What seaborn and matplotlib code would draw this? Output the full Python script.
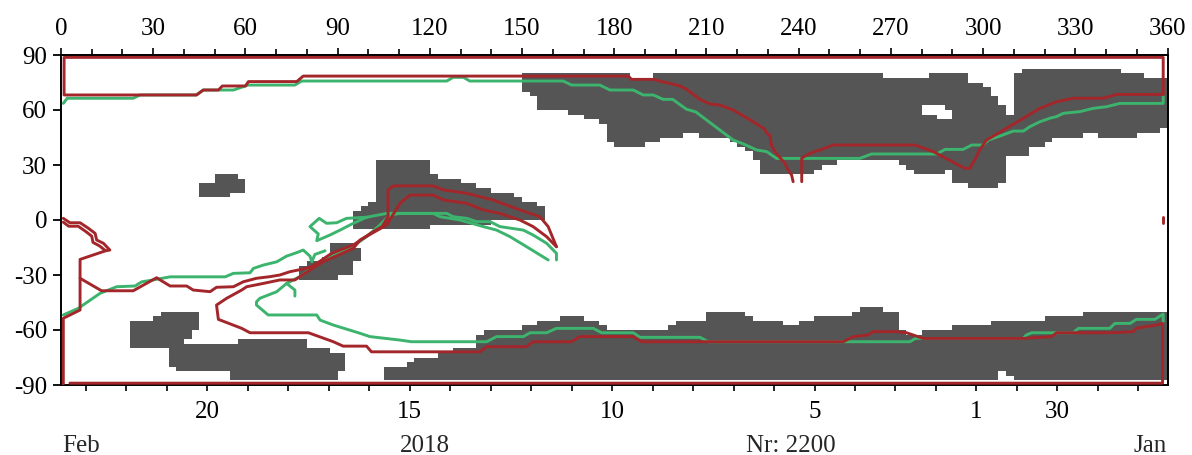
import numpy as np
import matplotlib
matplotlib.use("Agg")
import matplotlib.pyplot as plt
from matplotlib.colors import ListedColormap
import seaborn as sns

sns.set_theme(style="ticks")
plt.rcParams['font.family'] = ['Liberation Serif', 'DejaVu Serif']
plt.rcParams['axes.unicode_minus'] = False

# ---------------------------------------------------------------- grey cells
# each region: lon edges, cell bottoms, cell tops (2.5 deg grid)
north_edges = [150, 152.5, 155, 165, 170, 175, 177.5, 180, 185, 190, 192.5, 195, 202.5,
               207.5, 217.5, 220, 222.5, 225, 227.5, 245, 247.5, 252.5, 267.5, 272.5, 275,
               277.5, 282.5, 287.5, 290, 295, 300, 302.5, 305, 307.5, 310, 312.5, 315, 320,
               322.5, 332.5, 337.5, 345, 350, 352.5, 357.5, 360]
north_bottom = [70, 67.5, 60, 57.5, 55, 52.5, 42.5, 40, 40, 42.5, 42.5, 45, 47.5, 45, 42.5,
                40, 37.5, 32.5, 25, 27.5, 30, 32.5, 32.5, 30, 27.5, 25, 25, 27.5, 20, 17.5,
                17.5, 17.5, 20, 35, 35, 35, 40, 42.5, 45, 47.5, 45, 45, 47.5, 47.5, 50]
north_top = [80, 80, 80, 80, 80, 80, 80, 80, 77.5, 77.5, 80, 80, 80, 80, 80, 80, 80, 80, 80,
             80, 80, 80, 77.5, 77.5, 77.5, 77.5, 80, 80, 80, 75, 72.5, 67.5, 62.5, 57.5, 80,
             82.5, 82.5, 82.5, 82.5, 82.5, 82.5, 80, 80, 77.5, 77.5]

arc_edges = [95, 97.5, 100, 102.5, 120, 122.5, 130, 135, 140, 147.5, 150, 155, 157.5]
arc_bottom = [-5, -5, -5, -5, -2.5, -2.5, -2.5, -2.5, 0, 0, 0, 0]
arc_top = [5, 7.5, 10, 32.5, 25, 22.5, 20, 17.5, 15, 12.5, 10, 7.5]

mid_edges = [77.5, 80, 85, 87.5, 90, 95, 97.5]
mid_bottom = [-32.5, -32.5, -32.5, -32.5, -30, -22.5]
mid_top = [-25, -22.5, -20, -12.5, -12.5, -15]

nw_edges = [45, 50, 55, 57.5, 60]
nw_bottom = [12.5, 12.5, 15, 15]
nw_top = [20, 25, 25, 22.5]

swa_edges = [22.5, 30, 32.5, 35, 42.5, 45]
swa_bottom = [-70, -70, -70, -65, -60]
swa_top = [-55, -52.5, -50, -50, -50]

swb_edges = [35, 37.5, 40, 55, 57.5, 80, 87.5, 90, 92.5]
swb_bottom = [-80, -82.5, -82.5, -87.5, -87.5, -87.5, -87.5, -82.5]
swb_top = [-65, -65, -67.5, -67.5, -65, -70, -72.5, -72.5]

south_edges = [105, 112.5, 115, 122.5, 127.5, 135, 137.5, 150, 155, 162.5, 170, 175, 177.5,
               197.5, 200, 210, 222.5, 225, 235, 240, 245, 257.5, 260, 267.5, 272.5, 275,
               280, 290, 302.5, 320, 332.5, 360]
south_bottom = [-87.5] * 31
south_top = [-80, -77.5, -75, -72.5, -70, -62.5, -60, -57.5, -55, -52.5, -55, -57.5, -60,
             -57.5, -55, -50, -52.5, -55, -57.5, -55, -52.5, -50, -47.5, -50, -60, -62.5,
             -60, -57.5, -55, -52.5, -50]

hole_edges = [280, 285, 287.5, 290, 305, 307.5, 310]
hole_bottom = [57.5, 55, 55, None, -87.5, -87.5]
hole_top = [62.5, 62.5, 60, None, -82.5, -85]

# ---------------------------------------------------------------- contour lines
red_north_lon = [238.2, 237.7, 236.6, 235.5, 232.3, 231.2, 230.6, 229.6, 229.0, 225.2, 218.7,
                 214.4, 211.1, 207.9, 203.5, 201.4, 198.1, 195.5, 192.7, 185.6, 184.6, 78.8,
                 76.7, 61.0, 60.0, 52.5, 51.2, 46.3, 44.1, 1.0, 1.0, 358.6, 358.6, 343.4, 339.1,
                 329.3, 323.9, 318.5, 307.6, 301.1, 298.9, 297.5, 295.7, 294.0, 283.8, 277.8,
                 251.3, 246.9, 243.7, 241.0, 241.0]
red_north_lat = [20.9, 24.5, 27.3, 30.9, 37.3, 40.4, 46.4, 47.3, 49.5, 53.6, 60.0, 62.7, 63.3,
                 65.8, 71.3, 73.1, 74.5, 75.5, 76.7, 76.7, 78.5, 78.5, 75.5, 75.5, 73.1, 73.1,
                 70.9, 70.9, 68.2, 68.2, 88.7, 88.7, 68.5, 68.5, 66.4, 66.4, 64.5, 60.9, 50.0,
                 43.6, 38.2, 33.5, 28.2, 28.2, 37.3, 40.9, 40.9, 38.2, 36.4, 33.8, 20.9]

red_south_lon = [2.9, 358.4, 358.4, 356.4, 351.5, 349.9, 348.8, 341.8, 323.9, 322.3, 313.1,
                 280.5, 275.1, 271.8, 264.2, 262.6, 257.8, 254.5, 188.9, 186.2, 168.8, 166.1,
                 153.6, 151.5, 138.5, 136.3, 101.0, 99.4, 91.8, 88.6, 80.5, 61.5, 58.8, 51.2,
                 50.6, 53.9, 58.8, 60.4, 65.8, 71.2, 76.1, 81.0, 85.3, 95.1, 97.3, 106.0, 110.3,
                 113.5, 121.1, 124.4, 132.0, 137.4, 142.8, 149.3, 153.6, 158.0, 161.2]
red_south_lat = [-89.0, -89.0, -56.4, -57.3, -58.6, -59.1, -60.9, -61.5, -61.5, -63.6, -64.6,
                 -64.6, -61.5, -60.9, -60.9, -62.7, -63.6, -66.4, -66.4, -63.6, -63.6, -66.4,
                 -66.4, -69.1, -69.1, -71.9, -71.9, -68.8, -68.8, -66.4, -61.5, -61.5, -59.1,
                 -54.2, -46.4, -42.7, -38.2, -36.4, -34.6, -32.7, -32.7, -27.3, -22.8, -15.5,
                 -10.9, -2.7, 9.1, 13.6, 13.6, 10.9, 9.1, 5.5, 3.6, 0.0, -3.6, -9.1, -14.6]

red_arc_lon = [161.2, 158.5, 155.8, 149.3, 140.6, 132.0, 124.4, 121.1, 108.1, 106.4, 106.4,
               104.5, 101.0, 95.1, 88.0, 81.6, 78.0, 74.5, 71.2, 68.0, 63.6, 59.3, 56.1, 50.6,
               48.5, 43.0, 40.9, 35.5, 31.1, 23.5, 13.2, 6.2]
red_arc_lat = [-14.6, -3.6, 1.8, 5.5, 10.9, 14.6, 16.4, 18.6, 18.6, 16.4, 1.8, -3.5, -7.0,
               -13.6, -18.2, -25.5, -27.0, -28.2, -30.0, -30.9, -31.8, -33.7, -36.4, -36.7,
               -39.1, -38.2, -36.0, -36.0, -31.5, -38.6, -38.6, -31.8]

red_west_lon = [0.75, 2.9, 6.2, 8.9, 11.1, 11.6, 13.8, 15.9, 14.5, 6.2, 6.2, 0.75, 0.75]
red_west_lat = [0.9, -1.5, -1.5, -4.5, -7.3, -10.9, -12.7, -16.4, -16.8, -21.5, -49.1, -53.6,
                -89.5]
red_inner_lon = [0.75, 2.5, 5.6, 8.0, 10.0, 10.4, 12.6, 14.5]
red_inner_lat = [-1.2, -3.4, -3.4, -6.2, -8.8, -12.2, -14.2, -16.8]
red_edge_lon = [358.6, 358.6]
red_edge_lat = [-1.8, 1.8]

green_north_lon = [0.75, 2.0, 23.5, 25.7, 44.0, 46.3, 56.1, 60.9, 76.1, 78.3, 125.5, 127.6,
                   131.0, 133.0, 163.4, 166.1, 175.3, 178.6, 186.2, 189.4, 192.7, 195.9, 199.0,
                   203.5, 206.5, 218.7, 222.0, 226.3, 229.6, 232.8, 259.9, 263.7, 284.9, 287.6,
                   293.5, 296.3, 300.0, 301.7, 306.5, 309.8, 313.1, 315.2, 318.5, 321.7, 323.9,
                   326.1, 331.5, 335.8, 340.2, 344.5, 358.6, 358.6]
green_north_lat = [63.6, 66.4, 66.4, 68.2, 68.2, 70.9, 70.9, 73.6, 73.6, 75.8, 75.8, 77.8,
                   77.8, 75.8, 75.8, 73.6, 73.6, 70.9, 70.9, 68.2, 68.2, 65.8, 65.8, 60.4, 59.0,
                   43.6, 41.5, 38.2, 37.3, 33.6, 33.6, 36.0, 36.0, 38.5, 38.5, 40.9, 40.9, 43.6,
                   46.4, 48.5, 48.5, 50.9, 53.6, 55.5, 56.4, 58.2, 59.1, 60.9, 61.8, 63.6, 63.6,
                   67.3]

green_west_lon = [0.75, 5.6, 12.7, 18.1, 24.1, 26.3, 30.0, 35.5, 53.4, 56.1, 61.5, 62.6, 65.8,
                  70.2, 73.4, 76.7, 78.8, 81.0, 81.6, 82.6, 85.9]
green_west_lat = [-51.8, -48.2, -40.0, -36.4, -36.0, -33.7, -32.7, -31.0, -31.0, -29.1, -28.8,
                  -26.4, -24.6, -22.8, -19.7, -17.8, -16.4, -19.7, -22.8, -18.8, -16.8]

green_south_lon = [358.6, 358.6, 355.9, 349.9, 347.8, 342.9, 341.2, 331.0, 329.3, 315.8, 314.1,
                   313.0, 278.0, 276.2, 210.6, 207.9, 188.4, 186.2, 175.9, 173.2, 161.2, 158.0,
                   152.6, 150.4, 141.7, 138.5, 114.0, 110.3, 100.5, 97.3, 88.6, 84.3, 83.2, 67.4,
                   63.6, 63.6, 64.7, 70.2, 73.4, 77.7, 82.1, 87.5, 95.1, 99.4, 103.8, 107.0,
                   110.3, 121.1, 123.3, 129.8, 137.4, 141.7, 146.1, 151.5, 158.5]
green_south_lat = [-55.5, -51.3, -54.2, -54.2, -56.4, -56.4, -59.1, -59.1, -61.5, -61.5, -62.7,
                   -64.6, -64.6, -66.4, -66.4, -64.0, -64.0, -61.5, -61.5, -59.1, -59.1, -61.5,
                   -61.5, -63.6, -63.6, -66.4, -66.4, -65.5, -63.6, -61.8, -57.3, -54.6, -51.8,
                   -51.8, -46.4, -44.6, -42.7, -39.1, -34.6, -30.9, -25.8, -20.4, -14.2, -9.1,
                   -2.7, 2.7, 3.6, 3.6, 1.8, 0.0, -3.6, -5.5, -9.1, -14.6, -21.8]

green_arc_lon = [99.4, 92.9, 89.7, 86.4, 84.0, 81.0, 83.7, 83.2, 87.5, 90.8, 95.1, 99.4, 106.0,
                 125.5, 127.6, 132.0, 135.2, 139.6, 142.8, 150.4, 153.6, 158.0, 161.2, 161.2]
green_arc_lat = [1.5, 0.9, -1.5, -1.8, 0.9, -3.6, -7.6, -11.3, -8.2, -5.5, -1.8, 1.5, 3.6, 3.6,
                 1.8, 0.9, -0.9, -0.9, -3.6, -5.5, -8.2, -12.7, -18.2, -21.8]

green_hook_lon = [73.4, 76.1, 76.1]
green_hook_lat = [-34.6, -38.2, -41.5]

# ---------------------------------------------------------------- bottom date axis
tick_days = [23, 22, 21, 20, 19, 18, 17, 16, 15, 14, 13, 12, 11, 10, 9, 8, 7, 6, 5, 4, 3, 2, 1,
             31, 30, 29, 28]
labelled_days = [20, 15, 10, 5, 1, 30]
first_day_lon = 8.1
day_step = 13.17

GREY = "#555555"
RED = "#a3262a"
GREEN = "#3cb46e"

# ---------------------------------------------------------------- build mask
lon_edges = np.arange(0, 360.01, 2.5)
lat_edges = np.arange(-90, 90.01, 2.5)
lon_c = 0.5 * (lon_edges[:-1] + lon_edges[1:])
lat_c = 0.5 * (lat_edges[:-1] + lat_edges[1:])
mask = np.zeros((lat_c.size, lon_c.size), dtype=bool)


def paint(edges, bottoms, tops, value=True):
    for l0, l1, b, t in zip(edges[:-1], edges[1:], bottoms, tops):
        if b is None:
            continue
        cols = (lon_c > l0) & (lon_c < l1)
        rows = (lat_c > b) & (lat_c < t)
        mask[np.ix_(rows, cols)] = value


for e, b, t in [(north_edges, north_bottom, north_top),
                (arc_edges, arc_bottom, arc_top),
                (mid_edges, mid_bottom, mid_top),
                (nw_edges, nw_bottom, nw_top),
                (swa_edges, swa_bottom, swa_top),
                (swb_edges, swb_bottom, swb_top),
                (south_edges, south_bottom, south_top)]:
    paint(e, b, t)
paint(hole_edges, hole_bottom, hole_top, value=False)

# ---------------------------------------------------------------- figure
fig = plt.figure(figsize=(11.92, 4.55), dpi=100)
ax = fig.add_axes([61 / 1192, 1 - 385 / 455, (1167.5 - 61) / 1192, 330 / 455])

field = np.ma.masked_where(~mask, np.ones_like(mask, dtype=float))
ax.pcolormesh(lon_edges, lat_edges, field, cmap=ListedColormap([GREY]),
              shading="flat", antialiased=False, zorder=1)

lw = 2.1
greens = [(green_north_lon, green_north_lat), (green_west_lon, green_west_lat),
          (green_south_lon, green_south_lat), (green_arc_lon, green_arc_lat),
          (green_hook_lon, green_hook_lat)]
reds = [(red_north_lon, red_north_lat), (red_south_lon, red_south_lat),
        (red_arc_lon, red_arc_lat), (red_west_lon, red_west_lat),
        (red_inner_lon, red_inner_lat), (red_edge_lon, red_edge_lat)]
for lons, lats in greens:
    sns.lineplot(x=lons, y=lats, sort=False, estimator=None, color=GREEN, linewidth=lw,
                 ax=ax, legend=False, zorder=3)
for lons, lats in reds:
    sns.lineplot(x=lons, y=lats, sort=False, estimator=None, color=RED, linewidth=lw,
                 ax=ax, legend=False, zorder=4)

ax.set_xlim(0, 360)
ax.set_ylim(-90, 90)
ax.set_xlabel("")
ax.set_ylabel("")

for s in ax.spines.values():
    s.set_visible(True)
    s.set_color("black")
    s.set_linewidth(1.4)

FS = 18
ax.set_yticks(np.arange(-90, 91, 30))
ax.set_yticklabels([str(v) for v in np.arange(-90, 91, 30)], fontsize=FS)
ax.tick_params(axis="y", direction="out", length=6, width=1.3, pad=4, colors="black",
               left=True, right=False)

day_pos = [first_day_lon + i * day_step for i in range(len(tick_days))]
ax.set_xticks(day_pos)
ax.set_xticklabels([str(d) if d in labelled_days else "" for d in tick_days], fontsize=FS)
ax.tick_params(axis="x", direction="out", length=4, width=1.2, pad=7.5, colors="black",
               bottom=True, top=False)

top = ax.secondary_xaxis("top")
top.set_xticks(np.arange(0, 361, 30))
top.set_xticklabels([str(v) for v in np.arange(0, 361, 30)], fontsize=FS)
top.set_xticks(np.arange(0, 361, 10), minor=True)
top.tick_params(axis="x", which="major", direction="out", length=5, width=1.2, pad=6,
                colors="black")
top.tick_params(axis="x", which="minor", direction="out", length=4, width=1.2,
                colors="black")
top.spines["top"].set_linewidth(1.4)

base = 3 / 455
fig.text(62 / 1192, base, "Feb", ha="left", va="baseline", fontsize=FS)
fig.text(425 / 1192, base, "2018", ha="center", va="baseline", fontsize=FS)
fig.text(791 / 1192, base, "Nr: 2200", ha="center", va="baseline", fontsize=FS)
fig.text(1167 / 1192, base, "Jan", ha="right", va="baseline", fontsize=FS)

fig.savefig("out.png", dpi=100, facecolor="white")
